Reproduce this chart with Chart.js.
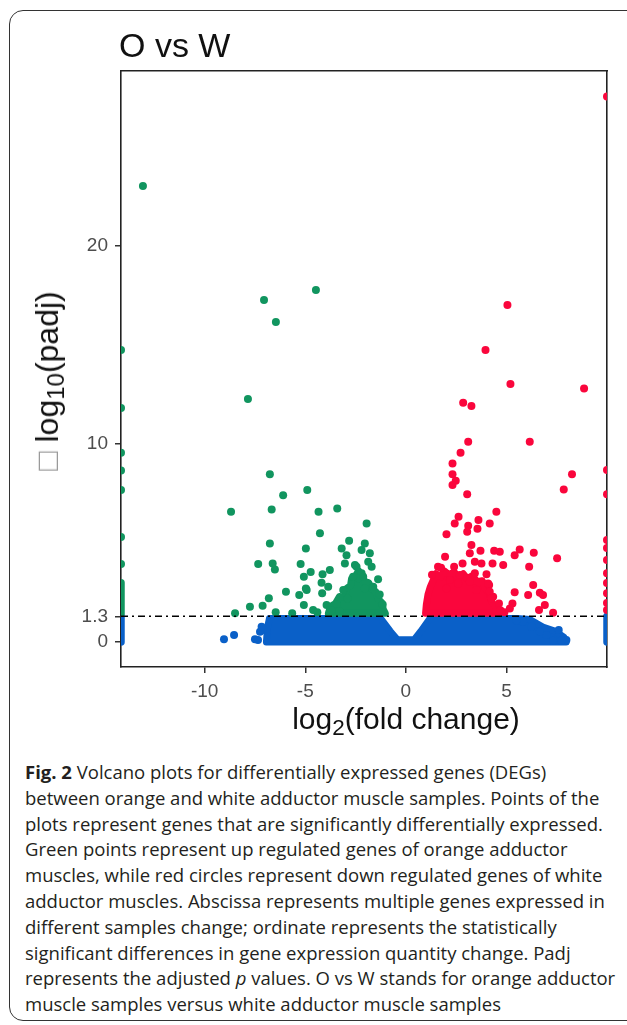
<!DOCTYPE html>
<html><head><meta charset="utf-8">
<script src="https://cdn.jsdelivr.net/npm/chart.js@4.4.1/dist/chart.umd.min.js"></script>
<style>
html,body{margin:0;padding:0;background:#fff;width:627px;height:1025px;overflow:hidden;position:relative;}
#frame{position:absolute;left:9px;top:10px;width:660px;height:1011px;border:1.5px solid #333;border-radius:14px;box-sizing:border-box;}
#title{position:absolute;left:119px;top:28px;font:34px/34px "Liberation Sans",Arial,sans-serif;color:#111;white-space:nowrap;}
#chart{position:absolute;left:0;top:0;}
.axt{position:absolute;font:30px/34px "Liberation Sans",Arial,sans-serif;color:#111;white-space:nowrap;}
.axt sub{font-size:75%;vertical-align:-0.25em;line-height:0;}
#xtitle{left:406px;top:702px;transform:translateX(-50%);}
#ytitle{left:47px;top:381px;font-size:32px;transform:translate(-50%,-50%) rotate(-90deg);}
#ytitle .box{color:#9a9a9a;}
#caption{position:absolute;left:25px;top:759px;font:18.5px/25.8px "Open Sans",sans-serif;color:#231f20;white-space:nowrap;}
</style></head>
<body>
<div id="frame"></div>
<canvas id="chart" width="627" height="745"></canvas>
<div id="title">O vs W</div>
<div id="xtitle" class="axt">log<sub>2</sub>(fold change)</div>
<div id="ytitle" class="axt"><span class="box">□</span> log<sub>10</sub>(padj)</div>
<div id="caption"><b>Fig. 2</b> Volcano plots for differentially expressed genes (DEGs)<br>between orange and white adductor muscle samples. Points of the<br>plots represent genes that are significantly differentially expressed.<br>Green points represent up regulated genes of orange adductor<br>muscles, while red circles represent down regulated genes of white<br>adductor muscles. Abscissa represents multiple genes expressed in<br>different samples change; ordinate represents the statistically<br>significant differences in gene expression quantity change. Padj<br>represents the adjusted <i>p</i> values. O vs W stands for orange adductor<br>muscle samples versus white adductor muscle samples</div>
<script>
// ---- axis ranges and ticks ----
const X_MIN = -14.16, X_MAX = 10.0;
const Y_MIN = -1.26, Y_MAX = 28.84;
const X_TICKS = [-10, -5, 0, 5];
const X_TICK_LABELS = ['-10', '-5', '0', '5'];
const Y_TICKS = [0, 1.3, 10, 20];
const Y_TICK_LABELS = ['0', '1.3', '10', '20'];
const THRESHOLD = 1.3;

// ---- significant up (green), log2FC, -log10 padj ----
const GREEN_POINTS = [
 [-13.07,23.03],[-4.47,17.78],[-7.05,17.27],[-6.46,16.16],[-7.85,12.27],
 [-6.76,8.48],[-6.10,7.42],[-4.90,7.68],[-8.69,6.58],[-6.67,6.70],[-4.34,6.58],[-3.41,6.75],
 [-1.95,5.99],[-4.27,5.49],[-6.76,4.98],[-4.97,4.73],
 [-7.34,3.94],[-6.62,3.97],[-6.51,3.67],[-5.23,3.94],[-5.07,3.30],[-4.73,3.54],[-4.14,3.42],
 [-3.78,3.64],[-4.19,2.99],[-3.86,2.79],[-5.96,2.54],[-5.30,2.37],[-4.97,2.71],[-4.16,2.46],
 [-6.81,2.21],[-7.75,1.78],[-7.12,1.83],[-8.49,1.45],[-6.47,1.50],[-5.65,1.45],[-5.07,1.87],
 [-4.61,1.62],[-3.94,1.87],[-3.44,1.92],
 [-2.82,5.12],[-2.04,4.98],[-3.19,4.73],[-2.95,4.39],[-2.20,4.65],[-1.79,4.48],[-1.87,4.06],
 [-3.03,3.97],[-2.53,3.89],[-1.70,3.80],[-2.20,3.47],[-2.37,3.22],[-1.38,3.17],[-4.93,2.63],
 [-3.11,2.63],[-2.04,2.71],[-1.62,2.79],[-2.45,3.80],[-2.62,3.30],[-2.12,3.30],
 [-4.40,1.50],[-3.70,1.60],[-3.30,1.55],[-2.90,2.20],[-1.30,2.40],[-1.15,1.90]
];
// green genes clamped at the left axis limit (-log10 padj)
const GREEN_EDGE_Y = [14.75, 11.82, 9.56, 8.67, 7.68, 5.30, 3.94];
const GREEN_EDGE_RANGE = [1.45, 3.0];

// ---- significant down (red) ----
const RED_POINTS = [
 [5.05,17.02],[3.96,14.75],[5.20,13.03],[8.86,12.81],[2.85,12.09],[3.26,11.92],[3.10,10.12],
 [6.16,10.12],[2.72,9.56],[2.32,9.02],[2.32,8.48],[2.48,8.15],[2.32,7.93],[3.05,7.47],
 [8.26,8.47],[7.85,7.71],[4.50,6.58],[2.62,6.33],[2.43,5.99],[3.10,5.87],[3.61,6.16],
 [4.17,5.99],[3.05,5.57],[3.56,5.72],[2.02,5.45],[3.26,4.90],[3.71,4.61],[4.39,4.61],
 [4.67,4.56],[5.66,4.68],[5.41,4.39],[6.36,4.51],[7.52,4.23],[1.95,4.31],[2.82,3.97],
 [3.43,4.06],[3.76,3.97],[4.31,3.97],[4.84,3.89],[6.13,3.80],[1.60,3.80],[6.33,2.88],
 [5.41,2.51],[6.08,2.37],[6.66,2.49],[6.82,2.37],[5.30,1.95],[6.91,1.87],[6.62,1.62],
 [7.32,1.48],[4.01,3.43],[4.14,2.88],[4.34,2.29],
 [3.18,4.48],[2.68,3.38],[3.43,3.47],[2.19,3.13],[2.60,2.96],[3.18,3.05],[4.09,2.96],
 [2.02,2.71],[3.51,2.63],[4.17,2.54],[4.26,2.21],[4.63,1.95],[5.17,1.70],
 [1.30,3.40],[1.75,3.75],[2.40,3.80],[4.70,1.60],[4.90,1.50]
];
// red genes clamped at the right axis limit
const RED_EDGE_Y = [27.55, 8.69, 7.47, 5.15, 4.75, 4.14, 3.48, 2.98, 2.47, 1.97, 1.62];

// ---- not significant (blue) scattered genes ----
const BLUE_POINTS = [
 [-9.04,0.14],[-8.54,0.35],[-7.50,0.14],[-7.35,0.10],[-7.12,0.61],[-7.25,0.52],[-7.17,0.77],
 [7.60,0.61],[7.98,0.10],[7.73,0.07],[7.32,0.07],[6.99,0.35],[6.66,0.52],[6.24,0.77],
 [5.83,1.03],[5.50,1.10]
];
const BLUE_EDGE_RANGE = [0, 1.3];

// ---- outlines of the dense, overplotted clouds ----
const BLUE_CLOUD = [
 [-6.78,1.19],[-6.88,0.71],[-6.93,0],[7.97,0],[7.85,0.25],[7.40,0.56],[6.81,0.76],
 [6.16,1.14],[5.51,1.19],[1.20,1.19],[0.75,0.55],[0.42,0.12],[-0.42,0.12],[-0.78,0.55],
 [-1.25,1.19],[-6.78,1.19]
];
const GREEN_CLOUD = [
 [-3.85,1.45],[-3.75,1.80],[-3.50,1.95],[-3.30,2.30],[-3.05,2.25],[-2.95,2.70],[-2.75,2.85],
 [-2.70,3.20],[-2.50,3.35],[-2.35,3.60],[-2.15,3.35],[-2.05,3.05],[-1.85,3.00],[-1.70,2.70],
 [-1.50,2.55],[-1.40,2.20],[-1.20,2.00],[-1.12,1.65],[-1.02,1.45],[-3.85,1.45]
];
const RED_CLOUD = [
 [0.98,1.45],[1.02,1.90],[1.10,2.40],[1.22,2.80],[1.35,3.10],[1.50,3.45],[1.75,3.30],
 [1.90,3.60],[2.15,3.40],[2.40,3.55],[2.60,3.25],[2.85,3.45],[3.05,3.20],[3.30,3.35],
 [3.55,3.05],[3.80,3.10],[3.95,2.70],[4.15,2.45],[4.25,2.05],[4.45,1.80],[4.62,1.45],[0.98,1.45]
];

const GREEN = '#11955f', RED = '#fa063c', BLUE = '#0a60c8';
const R = 4;
const toXY = a => a.map(([x, y]) => ({x, y}));

const pts = (data, color, order) => ({data, backgroundColor: color, borderWidth: 0,
  pointRadius: R, pointHoverRadius: R, clip: 0, order});
const cloud = (data, color, order) => ({data, showLine: true, fill: 'shape',
  backgroundColor: color, borderColor: color, borderWidth: 7, borderJoinStyle: 'round',
  borderCapStyle: 'round', pointRadius: 0, pointHoverRadius: 0, clip: 0, order});
const column = (data, color, order) => ({data, showLine: true, fill: false,
  borderColor: color, borderWidth: 7.5, borderCapStyle: 'round', pointRadius: 0,
  pointHoverRadius: 0, clip: 0, order});

const datasets = [
  {data: [{x: X_MIN, y: THRESHOLD}, {x: X_MAX, y: THRESHOLD}], showLine: true,
   borderColor: '#000', borderWidth: 1.5, borderDash: [7, 4, 2, 4], pointRadius: 0, clip: 0, order: 0},
  cloud(toXY(BLUE_CLOUD), BLUE, 10),
  pts(toXY(BLUE_POINTS), BLUE, 9),
  column([{x: X_MIN, y: BLUE_EDGE_RANGE[0]}, {x: X_MIN, y: BLUE_EDGE_RANGE[1]}], BLUE, 9),
  column([{x: X_MAX, y: BLUE_EDGE_RANGE[0]}, {x: X_MAX, y: BLUE_EDGE_RANGE[1]}], BLUE, 9),
  cloud(toXY(GREEN_CLOUD), GREEN, 8),
  cloud(toXY(RED_CLOUD), RED, 8),
  column([{x: X_MIN, y: GREEN_EDGE_RANGE[0]}, {x: X_MIN, y: GREEN_EDGE_RANGE[1]}], GREEN, 8),
  pts(toXY(GREEN_POINTS), GREEN, 7),
  pts(toXY(RED_POINTS), RED, 7),
  pts(GREEN_EDGE_Y.map(y => ({x: X_MIN, y})), GREEN, 7),
  pts(RED_EDGE_Y.map(y => ({x: X_MAX, y})), RED, 7)
];

Chart.defaults.font.family = '"Liberation Sans", Arial, sans-serif';
const frameColor = '#222';
new Chart(document.getElementById('chart'), {
  type: 'scatter',
  data: {datasets},
  options: {
    responsive: false, animation: false, events: [],
    layout: {padding: {left: 0, top: 71, right: 20, bottom: 0}},
    plugins: {legend: {display: false}, tooltip: {enabled: false}, title: {display: false}},
    scales: {
      x: {
        type: 'linear', position: 'bottom', min: X_MIN, max: X_MAX,
        afterBuildTicks: s => { s.ticks = X_TICKS.map(v => ({value: v})); },
        afterFit: s => { s.height = 78; },
        ticks: {autoSkip: false, maxRotation: 0, padding: 7, color: '#4d4d4d',
          font: {size: 19}, callback: v => X_TICK_LABELS[X_TICKS.indexOf(v)]},
        grid: {display: true, drawOnChartArea: false, drawTicks: true, tickLength: 6,
          color: '#333', lineWidth: 1.5},
        border: {display: true, color: frameColor, width: 1.6}
      },
      y: {
        type: 'linear', position: 'left', min: Y_MIN, max: Y_MAX,
        afterBuildTicks: s => { s.ticks = Y_TICKS.map(v => ({value: v})); },
        afterFit: s => { s.width = 121; },
        ticks: {autoSkip: false, padding: 7, color: '#4d4d4d', font: {size: 19},
          callback: v => Y_TICK_LABELS[Y_TICKS.indexOf(v)]},
        grid: {display: true, drawOnChartArea: false, drawTicks: true, tickLength: 6,
          color: '#333', lineWidth: 1.5},
        border: {display: true, color: frameColor, width: 1.6}
      },
      xTop: {
        type: 'linear', position: 'top', min: X_MIN, max: X_MAX,
        afterFit: s => { s.height = 0; },
        ticks: {display: false}, grid: {display: false},
        border: {display: true, color: frameColor, width: 1.6}
      },
      yRight: {
        type: 'linear', position: 'right', min: Y_MIN, max: Y_MAX,
        afterFit: s => { s.width = 0; },
        ticks: {display: false}, grid: {display: false},
        border: {display: true, color: frameColor, width: 1.6}
      }
    }
  }
});
</script>
</body></html>
